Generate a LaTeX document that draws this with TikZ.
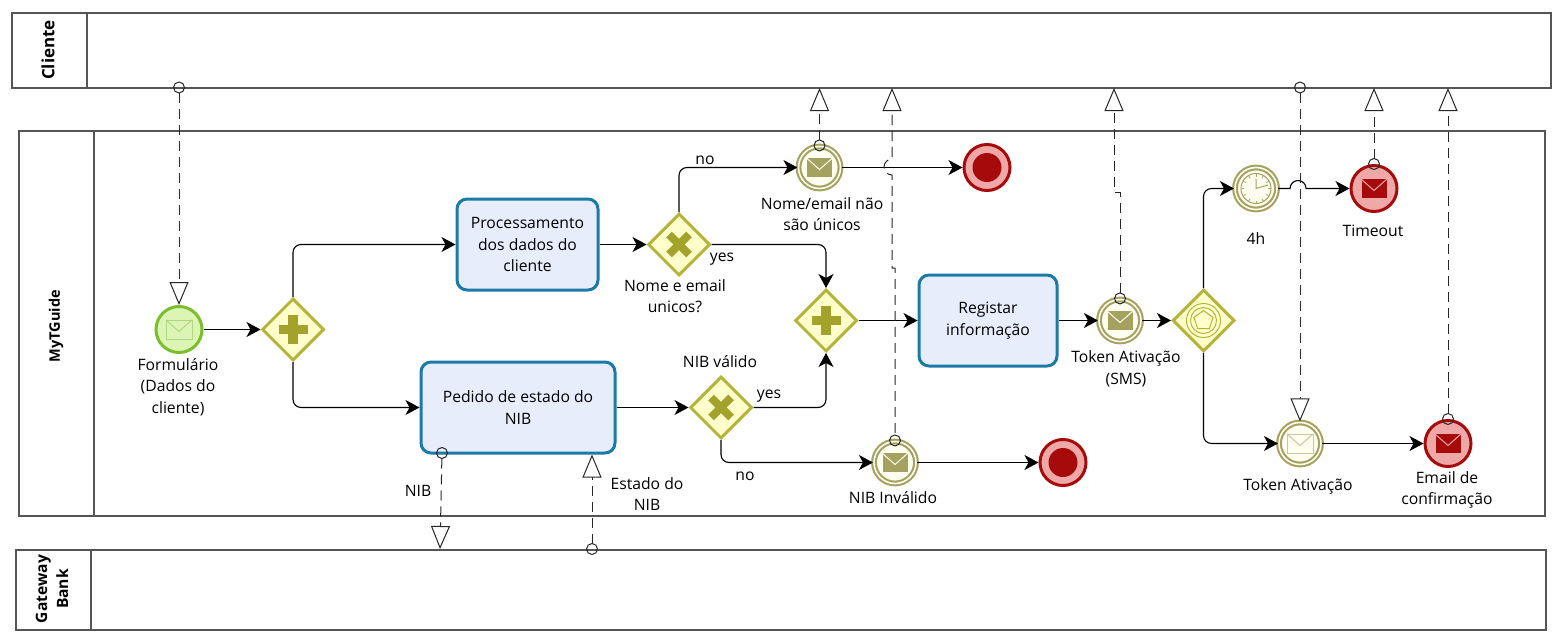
\documentclass[tikz,border=0pt]{standalone}
\usepackage{fontspec}
\setmainfont{Open Sans}
\usepackage[svgnames]{xcolor}
\usetikzlibrary{shapes.geometric,arrows.meta}

\definecolor{PoolLine}{HTML}{555555}
\definecolor{TaskLine}{HTML}{1B7AA6}
\definecolor{TaskFill}{HTML}{E8EDFC}
\definecolor{GateLine}{HTML}{B4B43A}
\definecolor{GateFill}{HTML}{FFFFCC}
\definecolor{GateMark}{HTML}{A3A32B}
\definecolor{StartLine}{HTML}{7BBE2C}
\definecolor{StartFill}{HTML}{DDF5B4}
\definecolor{MidLine}{HTML}{A5A160}
\definecolor{MidFill}{HTML}{FFFDF0}
\definecolor{EndLine}{HTML}{A60A0A}
\definecolor{EndFill}{HTML}{EEA8A8}

\tikzset{
    pool/.style={draw=PoolLine, line width=1.3pt, minimum height=75pt, inner sep=0pt},
    poolname/.style={rotate=90, align=center, font=\fontsize{14.5}{17}\selectfont\bfseries},
    task/.style={draw=TaskLine, fill=TaskFill, line width=3pt, rounded corners=10pt,
        align=center, inner sep=0pt},
    gate/.style={diamond, aspect=1, draw=GateLine, fill=GateFill, line width=3pt,
        minimum size=62pt, inner sep=0pt},
    startev/.style={circle, draw=StartLine, fill=StartFill, line width=3pt,
        minimum size=46pt, inner sep=0pt},
    midev/.style={circle, draw=MidLine, fill=MidFill, line width=2.1pt,
        double=MidFill, double distance=1.6pt, minimum size=42pt, inner sep=0pt},
    endev/.style={circle, draw=EndLine, fill=EndFill, line width=3pt,
        minimum size=46pt, inner sep=0pt},
    lbl/.style={align=center, inner sep=0pt},
    flow/.style={draw=black, line width=1.1pt, rounded corners=8pt,
        -{Stealth[length=14pt, width=15pt, inset=4pt]}},
    msg/.style={draw=black!85, line width=1pt, dash pattern=on 10pt off 6pt, shorten <=-6pt,
        {Circle[open, length=12pt, width=12pt]}-{Triangle[open, fill=white, length=23pt, width=19pt]}},
    envelope/.pic={
        \draw[pic actions] (-13,-9.5) rectangle (13,9.5);
        \draw[pic actions] (-13,-9.5) -- (0,2) -- (13,-9.5);
    },
    plusmark/.pic={
        \draw[GateMark, line width=9.5pt] (-14.5,0) -- (14.5,0) (0,-14.5) -- (0,14.5);
    },
    crossmark/.pic={
        \draw[GateMark, line width=8pt] (-10,-10) -- (10,10) (-10,10) -- (10,-10);
    }
}

\begin{document}
\begin{tikzpicture}[x=1pt, y=-1pt, font=\fontsize{15.7}{21.5}\selectfont]
    \useasboundingbox (0,0) rectangle (1567,642);

    % pools
    \node[pool, minimum width=1539pt] (Cliente) at (781.5,50.5) {};
    \node[pool, minimum width=75pt] (ClienteHead) at (49.5,50.5) {};
    \node[poolname, font=\fontsize{17}{20}\selectfont\bfseries] (ClienteName) at (48,50) {Cliente};

    \node[pool, minimum width=1526pt, minimum height=385pt] (MyTGuide) at (782,323.5) {};
    \node[pool, minimum width=75pt, minimum height=385pt] (MyTGuideHead) at (56.5,323.5) {};
    \node[poolname] (MyTGuideName) at (56,326) {MyTGuide};

    \node[pool, minimum width=1530pt, minimum height=80pt] (Gateway) at (781,590) {};
    \node[pool, minimum width=75pt, minimum height=80pt] (GatewayHead) at (53.5,590) {};
    \node[poolname, font=\fontsize{15.6}{21}\selectfont\bfseries] (GatewayName) at (52,589) {Gateway\\Bank};

    % tasks
    \node[task, minimum width=141pt, minimum height=91pt] (Processamento) at (527.5,244.5)
        {Processamento\\dos dados do\\cliente};
    \node[task, minimum width=194pt, minimum height=91pt] (Pedido) at (518,407.5)
        {Pedido de estado do\\NIB};
    \node[task, minimum width=138pt, minimum height=91pt] (Registar) at (988,320.5)
        {Registar\\informação};

    % gateways
    \node[gate] (GateStart) at (293,329.5) {};
    \pic at (GateStart) {plusmark};
    \node[gate] (GateNome) at (679,244.5) {};
    \pic at (GateNome) {crossmark};
    \node[gate] (GateNIB) at (721,407.5) {};
    \pic at (GateNIB) {crossmark};
    \node[gate] (GateJoin) at (826,320.5) {};
    \pic at (GateJoin) {plusmark};
    \node[gate] (GateEvent) at (1203.5,320.5) {};
    \draw[GateLine, line width=1pt] (GateEvent) circle (17) (GateEvent) circle (13);
    \node[regular polygon, regular polygon sides=5, draw=GateLine, line width=1pt,
        minimum size=20pt, inner sep=0pt] (Pentagon) at (GateEvent) {};

    % events
    \node[startev] (Formulario) at (179,329.5) {};
    \pic[draw=StartLine!60!white, line width=1pt] at (Formulario) {envelope};
    \node[midev] (NomeEv) at (819.5,167.5) {};
    \pic[draw=MidFill, fill=MidLine, line width=1pt] at (NomeEv) {envelope};
    \node[endev] (NomeEnd) at (987,167.5) {};
    \node[circle, fill=EndLine, minimum size=29pt, inner sep=0pt] (NomeDot) at (NomeEnd) {};
    \node[midev] (NIBEv) at (895,462.5) {};
    \pic[draw=MidFill, fill=MidLine, line width=1pt] at (NIBEv) {envelope};
    \node[endev] (NIBEnd) at (1063,462.5) {};
    \node[circle, fill=EndLine, minimum size=29pt, inner sep=0pt] (NIBDot) at (NIBEnd) {};
    \node[midev] (Token) at (1120,320.5) {};
    \pic[draw=MidFill, fill=MidLine, line width=1pt] at (Token) {envelope};
    \node[midev] (Timer) at (1256,188.5) {};
    \draw[MidLine, line width=1pt] (Timer) circle (15);
    \foreach \a in {0,30,...,330}
        \draw[MidLine, line width=0.8pt] (Timer) ++(\a:12) -- ++(\a:2.5);
    \draw[MidLine, line width=1pt] (1256,179) -- (1256,188.5) -- (1268,185);
    \node[endev] (Timeout) at (1374,188.5) {};
    \pic[draw=EndFill, fill=EndLine, line width=1pt] at (Timeout) {envelope};
    \node[midev] (TokenAtiv) at (1300,443.5) {};
    \pic[draw=MidLine!60!white, line width=1pt] at (TokenAtiv) {envelope};
    \node[endev] (Email) at (1448,443.5) {};
    \pic[draw=EndFill, fill=EndLine, line width=1pt] at (Email) {envelope};

    % labels
    \node[lbl] (lblForm) at (178,387) {Formulário\\(Dados do\\cliente)};
    \node[lbl] (lblNome) at (822,214) {Nome/email não\\são únicos};
    \node[lbl] (lblNo) at (705,160) {no};
    \node[lbl] (lblYes) at (722,259) {yes};
    \node[lbl] (lblGateNome) at (675,296) {Nome e email\\unicos?};
    \node[lbl] (lblValido) at (720,361.5) {NIB válido};
    \node[lbl] (lblYesNIB) at (769,396) {yes};
    \node[lbl] (lblNoNIB) at (745,476) {no};
    \node[lbl] (lblToken) at (1126,369) {Token Ativação\\(SMS)};
    \node[lbl] (lbl4h) at (1256,239) {4h};
    \node[lbl] (lblTimeout) at (1373,231) {Timeout};
    \node[lbl] (lblTokenAtiv) at (1298,486.5) {Token Ativação};
    \node[lbl] (lblEmail) at (1447,490) {Email de\\confirmação};
    \node[lbl] (lblNIBEv) at (893,497.5) {NIB Inválido};
    \node[lbl] (lblNIB) at (418,490.5) {NIB};
    \node[lbl] (lblEstado) at (647,494) {Estado do\\NIB};

    % sequence flows
    \draw[flow] (Formulario.east) -- (GateStart.west);
    \draw[flow] (GateStart.north) |- (Processamento.west);
    \draw[flow] (GateStart.south) |- (Pedido.west);
    \draw[flow] (Processamento.east) -- (GateNome.west);
    \draw[flow] (GateNome.north) |- (NomeEv.west);
    \draw[flow] (GateNome.east) -| (GateJoin.north);
    \draw[flow] (NomeEv.east) -- (NomeEnd.west);
    \draw[flow] (Pedido.east) -- (GateNIB.west);
    \draw[flow] (GateNIB.east) -| (GateJoin.south);
    \draw[flow] (GateNIB.south) |- (NIBEv.west);
    \draw[flow] (NIBEv.east) -- (NIBEnd.west);
    \draw[flow] (GateJoin.east) -- (Registar.west);
    \draw[flow] (Registar.east) -- (Token.west);
    \draw[flow] (Token.east) -- (GateEvent.west);
    \draw[flow] (GateEvent.north) |- (Timer.west);
    \draw[flow] (GateEvent.south) |- (TokenAtiv.west);
    \draw[flow, sharp corners] (Timer.east) -- ++(12,0) arc[start angle=180, end angle=360, radius=8]
        -- (Timeout.west);
    \draw[flow] (TokenAtiv.east) -- (Email.west);

    % message flows
    \coordinate (TopA) at (179,87.5);
    \coordinate (TopB) at (1300,87.5);
    \coordinate (TipTop) at (0,88);
    \coordinate (NIBOut) at (440,549);
    \coordinate (NIBStart) at (442,453);
    \coordinate (EstadoOut) at (592,549);
    \coordinate (NIBBend) at (892,268);
    \coordinate (NIBHop) at (892,175);
    \coordinate (TokenBend) at (1114,192);

    \draw[msg] (TopA) -- (Formulario.north);
    \draw[msg] (TopB) -- (TopB |- TokenAtiv.north);
    \draw[msg] (NomeEv.north) -- (NomeEv.north |- TipTop);
    \draw[msg, dash phase=14pt] (NIBEv.north) |- (NIBBend) -- (NIBHop)
        arc[start angle=90, end angle=270, radius=8] -- (NIBHop |- TipTop);
    \draw[msg] (Token.north) |- (TokenBend) -- (TokenBend |- TipTop);
    \draw[msg] (Timeout.north) -- (Timeout.north |- TipTop);
    \draw[msg] (Email.north) -- (Email.north |- TipTop);
    \draw[msg] (NIBStart) -- (NIBOut);
    \draw[msg] (EstadoOut) -- (EstadoOut |- Pedido.south);
\end{tikzpicture}
\end{document}
